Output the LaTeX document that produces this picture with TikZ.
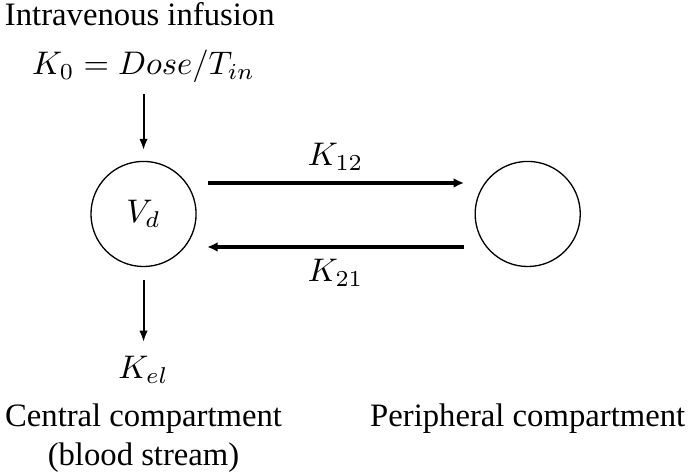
\documentclass[tikz,border=0pt]{standalone}
\usepackage[no-math]{fontspec}
\setmainfont{Liberation Serif}
\usepackage{amsmath}
\usetikzlibrary{arrows.meta}

\begin{document}
\begin{tikzpicture}[
  cmpt/.style={draw,circle,minimum size=1.13cm,inner sep=0pt},
  flow/.style={semithick,-{Latex[length=3.4pt,width=2.6pt]}},
  xfer/.style={line width=1pt,-{Latex[length=3.2pt,width=3pt]},shorten <=3.3pt,shorten >=3.2pt}]
\useasboundingbox (-1.543,-2.795) rectangle (5.864,2.30);
\node[cmpt] (central) at (0,0) {$V_d$};
\node[cmpt] (periph) at (4.13,0) {};
\node[anchor=base] (infusion) at (-0.04,2.03) {Intravenous infusion};
\node[anchor=base] (dose) at (0,1.50) {$K_0 = Dose/T_{in}$};
\node[anchor=base] (kel) at (0,-1.774) {$K_{el}$};
\node[anchor=base] (centlab) at (0,-2.28) {Central compartment};
\node[anchor=base] (blood) at (0,-2.70) {(blood stream)};
\node[anchor=base] (perlab) at (4.13,-2.28) {Peripheral compartment};
% infusion in, elimination out
\draw[flow,shorten >=3.3pt] (dose) -- (central);
\draw[flow,shorten <=4pt,shorten >=1pt] (central) -- (kel);
% exchange between the two compartments
\draw[xfer] ([yshift=0.333cm]central.east) -- ([yshift=0.333cm]periph.west)
  node[midway,above] (k12) {$K_{12}$};
\draw[xfer] ([yshift=-0.355cm]periph.west) -- ([yshift=-0.355cm]central.east)
  node[midway,below] (k21) {$K_{21}$};
\end{tikzpicture}
\end{document}
